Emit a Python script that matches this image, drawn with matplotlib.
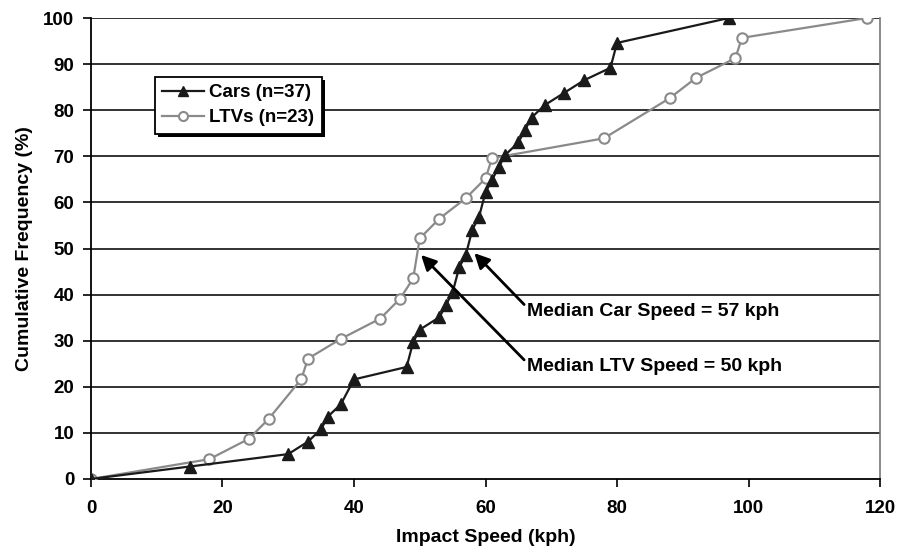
import matplotlib
matplotlib.use("Agg")
import matplotlib.pyplot as plt
from matplotlib.patches import Rectangle

plt.rcParams['font.family'] = ['Liberation Sans', 'DejaVu Sans']
plt.rcParams['font.weight'] = 'bold'

car_speed = [0, 15, 30, 33, 35, 36, 38, 40, 48, 49, 50, 53, 54, 55, 56, 57, 58, 59, 60, 61,
             62, 63, 65, 66, 67, 69, 72, 75, 79, 80, 97]
car_pct = [0, 2.7, 5.4, 8.1, 10.8, 13.5, 16.2, 21.6, 24.3, 29.7, 32.4, 35.1, 37.8, 40.5, 45.9,
           48.6, 54.1, 56.8, 62.2, 64.9, 67.6, 70.3, 73.0, 75.7, 78.4, 81.1, 83.8, 86.5, 89.2,
           94.6, 100]
ltv_speed = [0, 18, 24, 27, 32, 33, 38, 44, 47, 49, 50, 53, 57, 60, 61, 78, 88, 92, 98, 99, 118]
ltv_pct = [0, 4.3, 8.7, 13.0, 21.7, 26.1, 30.4, 34.8, 39.1, 43.5, 52.2, 56.5, 60.9, 65.2, 69.6,
           73.9, 82.6, 87.0, 91.3, 95.7, 100]

labels = ["Cars (n=37)", "LTVs (n=23)"]
x_ticks = [0, 20, 40, 60, 80, 100, 120]
y_ticks = [0, 10, 20, 30, 40, 50, 60, 70, 80, 90, 100]

fig = plt.figure(figsize=(8.98, 5.51), dpi=100)
ax = fig.add_axes([0.1013, 0.1307, 0.8787, 0.8366])

for y in y_ticks[1:]:
    ax.axhline(y, color='#222222', lw=1.3, zorder=1)

l1, = ax.plot(car_speed, car_pct, color='#1a1a1a', lw=1.6, marker='^', markersize=8,
              markerfacecolor='#1a1a1a', markeredgecolor='#1a1a1a', zorder=4, label=labels[0])
l2, = ax.plot(ltv_speed, ltv_pct, color='#8a8a8a', lw=1.6, marker='o', markersize=7.5,
              markerfacecolor='white', markeredgecolor='#8a8a8a', markeredgewidth=1.5,
              zorder=3, label=labels[1])

ax.set_xlim(0, 120)
ax.set_ylim(0, 100)
ax.set_xticks(x_ticks)
ax.set_yticks(y_ticks)
ax.tick_params(axis='both', direction='out', length=6, width=1.2, colors='black',
               labelsize=13.5)
ax.tick_params(axis='x', pad=9)
ax.tick_params(axis='y', pad=6)
for lab in ax.get_xticklabels() + ax.get_yticklabels():
    lab.set_fontweight('bold')

ax.spines['top'].set_visible(False)
ax.spines['right'].set_color('#777777')
ax.spines['right'].set_linewidth(1.2)
ax.spines['left'].set_linewidth(1.3)
ax.spines['bottom'].set_linewidth(1.3)
for s in ax.spines.values():
    s.set_clip_on(False)

ax.set_xlabel("Impact Speed (kph)", fontsize=14, fontweight='bold', labelpad=9)
ax.set_ylabel("Cumulative Frequency (%)", fontsize=14, fontweight='bold', labelpad=7)

ax.annotate("Median Car Speed = 57 kph", xy=(58.3, 49.0), xytext=(66.3, 36.3),
            fontsize=14, fontweight='bold', va='center', ha='left',
            arrowprops=dict(arrowstyle='-|>,head_length=0.5,head_width=0.25', color='black',
                            lw=2, mutation_scale=18,
                            shrinkA=0, shrinkB=0, relpos=(0, 0.75)), zorder=5)
ax.annotate("Median LTV Speed = 50 kph", xy=(50.2, 48.6), xytext=(66.3, 24.3),
            fontsize=14, fontweight='bold', va='center', ha='left',
            arrowprops=dict(arrowstyle='-|>,head_length=0.5,head_width=0.25', color='black',
                            lw=2, mutation_scale=18,
                            shrinkA=0, shrinkB=0, relpos=(0, 0.75)), zorder=5)

leg = ax.legend(handles=[l1, l2], loc='upper left', bbox_to_anchor=(0.081, 0.873),
                frameon=True, fancybox=False, shadow=False,
                prop={'weight': 'bold', 'size': 13.5}, handlelength=2.2, borderpad=0.4,
                labelspacing=0.42, handletextpad=0.3, borderaxespad=0)
leg.get_frame().set_edgecolor('black')
leg.get_frame().set_linewidth(1.3)
leg.get_frame().set_alpha(1)
leg.set_zorder(7)
for h in leg.legend_handles:
    h.set_markersize(6.5)

fig.canvas.draw()
bb = leg.get_frame().get_window_extent()
sh = Rectangle((bb.x0 + 3, bb.y0 - 3), bb.width, bb.height, transform=None,
               facecolor='black', edgecolor='none', zorder=6)
ax.add_artist(sh)

fig.savefig("out.png", dpi=100)
